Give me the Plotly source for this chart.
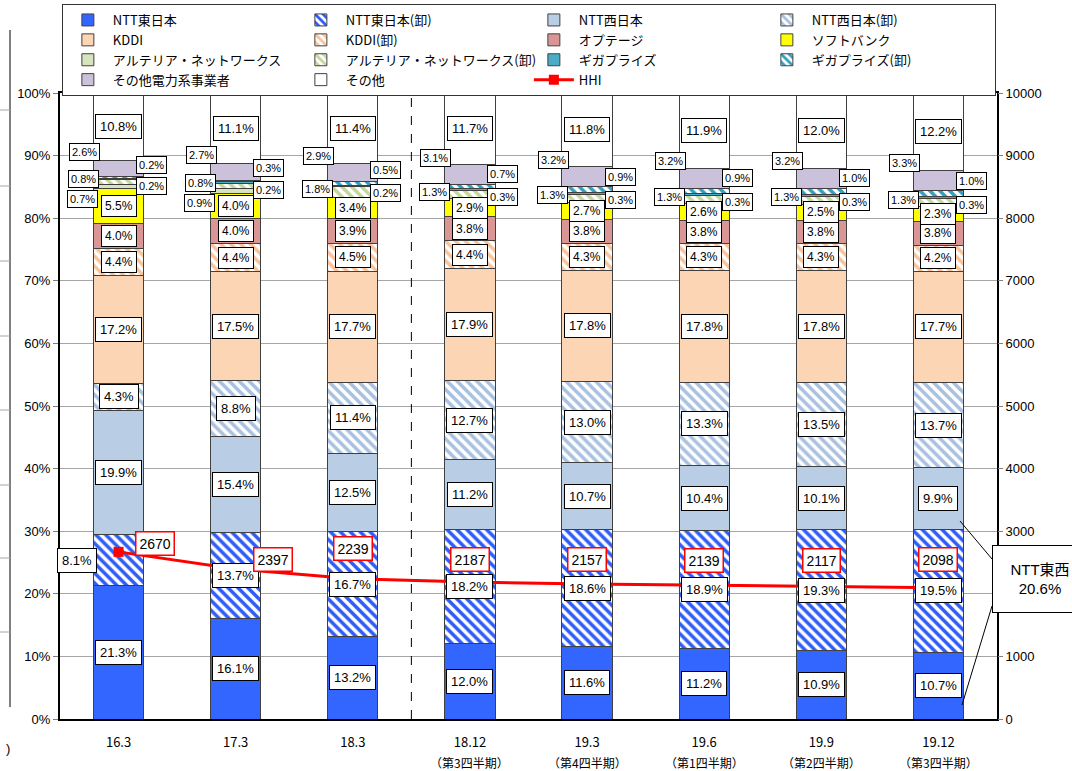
import plotly.graph_objects as go

# Periods on the x axis
periods = ["16.3", "17.3", "18.3", "18.12", "19.3", "19.6", "19.9", "19.12"]
period_notes = ["", "", "", "（第3四半期）", "（第4四半期）", "（第1四半期）", "（第2四半期）", "（第3四半期）"]

# Share of each operator (%), bottom of the stack first
ntt_east = [21.3, 16.1, 13.2, 12.0, 11.6, 11.2, 10.9, 10.7]
ntt_east_wh = [8.1, 13.7, 16.7, 18.2, 18.6, 18.9, 19.3, 19.5]
ntt_west = [19.9, 15.4, 12.5, 11.2, 10.7, 10.4, 10.1, 9.9]
ntt_west_wh = [4.3, 8.8, 11.4, 12.7, 13.0, 13.3, 13.5, 13.7]
kddi = [17.2, 17.5, 17.7, 17.9, 17.8, 17.8, 17.8, 17.7]
kddi_wh = [4.4, 4.4, 4.5, 4.4, 4.3, 4.3, 4.3, 4.2]
optage = [4.0, 4.0, 3.9, 3.8, 3.8, 3.8, 3.8, 3.8]
softbank = [5.5, 4.0, 3.4, 2.9, 2.7, 2.6, 2.5, 2.3]
arteria = [0.7, 0.9, 0.0, 0.0, 0.0, 0.0, 0.0, 0.0]
arteria_wh = [0.8, 0.8, 1.8, 1.3, 1.3, 1.3, 1.3, 1.3]
gigaprize = [0.2, 0.2, 0.2, 0.3, 0.3, 0.3, 0.3, 0.3]
gigaprize_wh = [0.2, 0.3, 0.5, 0.7, 0.9, 0.9, 1.0, 1.0]
other_power = [2.6, 2.7, 2.9, 3.1, 3.2, 3.2, 3.2, 3.3]
others = [10.8, 11.1, 11.4, 11.7, 11.8, 11.9, 12.0, 12.2]

# Herfindahl-Hirschman index (right axis)
hhi = [2670, 2397, 2239, 2187, 2157, 2139, 2117, 2098]

# Combined NTT East/West retail share for the latest period
ntt_combined_latest = "20.6%"

# name, values, colour, hatched?, label offset (x, y) in px, label font size
series = [
    ("NTT東日本", ntt_east, "#3366FF", False, (0, 0), 13),
    ("NTT東日本(卸)", ntt_east_wh, "#2E5CF5", True, (0, 0), 13),
    ("NTT西日本", ntt_west, "#B9CDE5", False, (0, 0), 13),
    ("NTT西日本(卸)", ntt_west_wh, "#A9C1E0", True, (0, 0), 13),
    ("KDDI", kddi, "#FCD5B5", False, (0, 0), 13),
    ("KDDI(卸)", kddi_wh, "#F9C39A", True, (0, 0), 12),
    ("オプテージ", optage, "#D99694", False, (0, 0), 12),
    ("ソフトバンク", softbank, "#FFFF00", False, (0, 0), 12),
    ("アルテリア・ネットワークス", arteria, "#D7E4BD", False, (-36, -12), 11),
    ("アルテリア・ネットワークス(卸)", arteria_wh, "#C3D69B", True, (-35, 3), 11),
    ("ギガプライズ", gigaprize, "#4BACC6", False, (33, -7), 11),
    ("ギガプライズ(卸)", gigaprize_wh, "#31A0C0", True, (33, 13), 11),
    ("その他電力系事業者", other_power, "#CCC1DA", False, (-34, 17), 11),
    ("その他", others, "#FFFFFF", False, (0, 0), 13),
]

LABEL_FONT = "Liberation Sans Narrow, Liberation Sans, Noto Sans CJK JP"
JP_FONT = "Liberation Sans Narrow, Noto Sans CJK JP"

PLOT_TOP, PLOT_BOTTOM = 93, 719          # px, plot area edges
PLOT_H = PLOT_BOTTOM - PLOT_TOP
PLOT_LEFT, PLOT_RIGHT = 60, 997
PLOT_W = PLOT_RIGHT - PLOT_LEFT


def paper_y(px):
    """Convert a pixel row in the page into paper y."""
    return (PLOT_BOTTOM - px) / PLOT_H


def paper_x(px):
    """Convert a pixel column in the page into paper x."""
    return (px - PLOT_LEFT) / PLOT_W


fig = go.Figure()
annotations = []
base = [0.0] * len(periods)

for name, vals, color, hatched, (dx, dy), fsize in series:
    if hatched:
        marker = dict(
            color="#FFFFFF",
            pattern=dict(shape="\\", fgcolor=color, bgcolor="#FFFFFF",
                         size=7, solidity=0.5, fillmode="replace"),
            line=dict(color="#404040", width=1),
        )
    else:
        marker = dict(color=color, line=dict(color="#404040", width=1))
    fig.add_trace(go.Bar(
        x=periods, y=vals, name=name, marker=marker, width=0.43,
        yaxis="y", hoverinfo="skip",
    ))
    for i, v in enumerate(vals):
        if v <= 0:
            continue
        mid = base[i] + v / 2
        xs, ys = dx, dy
        if name == "NTT東日本(卸)" and v < 10:
            xs = -42
        annotations.append(dict(
            x=i, y=mid, xref="x", yref="y",
            text=f"{v:.1f}%", showarrow=False,
            xshift=xs, yshift=ys,
            font=dict(family=LABEL_FONT, size=fsize, color="#000000"),
            bgcolor="#FFFFFF", bordercolor="#000000", borderwidth=1,
            borderpad=4 if fsize >= 13 else (3 if fsize == 12 else 2),
        ))
    base = [b + v for b, v in zip(base, vals)]

# HHI line on the secondary axis
fig.add_trace(go.Scatter(
    x=periods, y=hhi, name="HHI", yaxis="y2", mode="lines+markers",
    line=dict(color="#FF0000", width=3),
    marker=dict(symbol="square", size=10, color="#FF0000"),
    hoverinfo="skip",
))
hhi_offsets = [(36, 8), (37, 9), (0, 30), (0, 23), (0, 24), (0, 25), (0, 26), (0, 28)]
for i, v in enumerate(hhi):
    dx, dy = hhi_offsets[i]
    annotations.append(dict(
        x=i, y=v, xref="x", yref="y2", text=str(v), showarrow=False,
        xshift=dx, yshift=dy,
        font=dict(family=LABEL_FONT, size=14, color="#000000"),
        bgcolor="#FFFFFF", bordercolor="#FF0000", borderwidth=1.5, borderpad=3,
    ))

# Quarter notes under the period labels
for i, note in enumerate(period_notes):
    if note:
        annotations.append(dict(
            x=i, y=paper_y(762), xref="x", yref="paper", text=note, showarrow=False,
            xanchor="center", yanchor="middle",
            font=dict(family=JP_FONT, size=12, color="#000000"),
        ))

# Callout for combined NTT East/West share
annotations.append(dict(
    x=paper_x(992), y=paper_y(579), xref="paper", yref="paper",
    xanchor="left", yanchor="middle",
    text=f"NTT東西<br>{ntt_combined_latest}", showarrow=False, align="center",
    width=90, height=62,
    font=dict(family="Liberation Sans, Noto Sans CJK JP", size=15, color="#000000"),
    bgcolor="#FFFFFF", bordercolor="#000000", borderwidth=1, borderpad=2,
))

# Fragment of neighbouring frame at the left edge
annotations.append(dict(
    x=paper_x(8), y=paper_y(748), xref="paper", yref="paper", text=")", showarrow=False,
    xanchor="center", yanchor="middle",
    font=dict(family="Liberation Sans", size=13, color="#000000"),
))

shapes = [
    # separator between fiscal-year and quarterly periods
    dict(type="line", xref="x", yref="paper", x0=2.5, x1=2.5, y0=0, y1=1,
         line=dict(color="#000000", width=1, dash="dash")),
    # callout leader lines
    dict(type="line", xref="paper", yref="paper", x0=paper_x(992), y0=paper_y(559),
         x1=paper_x(960), y1=paper_y(521), line=dict(color="#000000", width=1)),
    dict(type="line", xref="paper", yref="paper", x0=paper_x(992), y0=paper_y(606),
         x1=paper_x(962), y1=paper_y(705), line=dict(color="#000000", width=1)),
    # edge of the neighbouring frame on the far left
    dict(type="line", xref="paper", yref="paper", x0=paper_x(10), x1=paper_x(10),
         y0=paper_y(707), y1=paper_y(30), line=dict(color="#000000", width=1)),
]
for row in [110, 186, 261, 336, 410, 485, 558, 632]:
    shapes.append(dict(type="line", xref="paper", yref="paper",
                       x0=paper_x(0), x1=paper_x(10), y0=paper_y(row), y1=paper_y(row),
                       line=dict(color="#A6A6A6", width=1)))

fig.update_layout(
    width=1072, height=771,
    margin=dict(l=PLOT_LEFT, r=1072 - PLOT_RIGHT, t=PLOT_TOP, b=771 - PLOT_BOTTOM,
                autoexpand=False),
    paper_bgcolor="#FFFFFF", plot_bgcolor="#FFFFFF",
    barmode="stack",
    font=dict(family=JP_FONT, size=12, color="#000000"),
    showlegend=True,
    legend=dict(
        orientation="h", x=0.002, y=paper_y(4), xanchor="left", yanchor="top",
        entrywidth=178, entrywidthmode="pixels", itemwidth=40,
        bordercolor="#333333", borderwidth=1, bgcolor="#FFFFFF",
        font=dict(family=JP_FONT, size=13, color="#000000"),
        traceorder="normal", tracegroupgap=0,
    ),
    xaxis=dict(
        type="category", range=[-0.5, 7.5],
        tickmode="array", tickvals=periods, ticktext=periods,
        tickfont=dict(family=JP_FONT, size=13), tickangle=0,
        ticklabelstandoff=10,
        showline=True, linecolor="#000000", linewidth=2, mirror=True,
        showgrid=False, ticks="",
    ),
    yaxis=dict(
        range=[0, 100], dtick=10, ticksuffix="%",
        tickfont=dict(family="Liberation Sans", size=13),
        showgrid=True, gridcolor="#A6A6A6", gridwidth=1,
        showline=True, linecolor="#000000", linewidth=2, mirror=True,
        ticks="outside", ticklen=5, tickcolor="#808080", zeroline=False,
    ),
    yaxis2=dict(
        range=[0, 10000], dtick=1000, overlaying="y", side="right",
        tickformat="d",
        tickfont=dict(family="Liberation Sans", size=13),
        showgrid=False, ticks="outside", ticklen=5, tickcolor="#808080",
        showline=False, zeroline=False,
    ),
    annotations=annotations,
    shapes=shapes,
)

fig.write_html("out.html")
